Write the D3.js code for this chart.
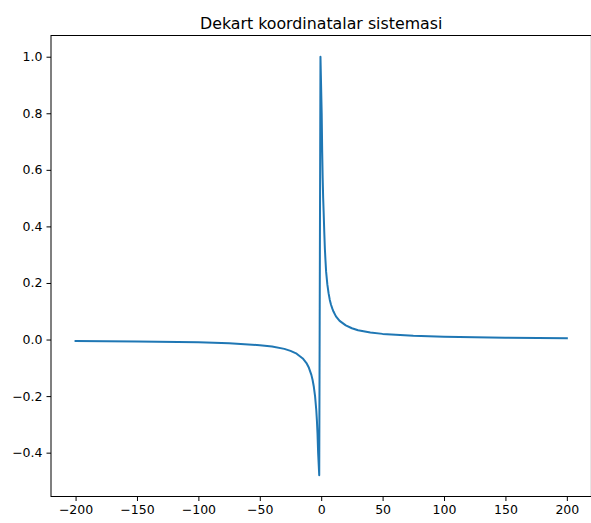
<!DOCTYPE html>
<html>
<head>
<meta charset="utf-8">
<script src="https://cdn.jsdelivr.net/npm/d3@7"></script>
<style>
  body { margin: 0; background: #fff; }
  .tick text { font-family: "DejaVu Sans", sans-serif; font-size: 12.5px; fill: #000; }
  .tick line { stroke: #000; stroke-width: 1; }
</style>
</head>
<body>
<div class="chart"></div>
<script>
var svgWidth = 591;
var svgHeight = 523;

// points (left branch, then right branch)
var xValues = [-200, -150, -100, -75, -50, -40, -30, -25, -20, -15, -12, -10, -8, -7, -6, -5, -4, -3.5, -3, -2.5, -1.6,
  -0.6, 0.4, 0.8, 1.2, 1.6, 2, 2.5, 3, 3.5, 4, 5, 6, 7, 8, 9, 10, 12, 15, 20, 25, 30, 40, 50, 75, 100, 150, 200];
var yValues = [-0.005, -0.0067, -0.01, -0.0133, -0.02, -0.025, -0.033, -0.04, -0.05, -0.067, -0.083, -0.1, -0.125, -0.143, -0.167, -0.2, -0.25, -0.286, -0.333, -0.4, -0.48,
  1.0, 0.8, 0.667, 0.571, 0.5, 0.45, 0.38, 0.32, 0.278, 0.24, 0.195, 0.164, 0.14, 0.123, 0.11, 0.099, 0.082, 0.066, 0.05, 0.04, 0.033, 0.025, 0.02, 0.0133, 0.01, 0.0067, 0.005];

var xTicks = [-200, -150, -100, -50, 0, 50, 100, 150, 200];
var yTicks = [-0.4, -0.2, 0.0, 0.2, 0.4, 0.6, 0.8, 1.0];
var title = "Dekart koordinatalar sistemasi";

var data = xValues.map((x, i) => ({x: x, y: yValues[i]}));

var plot = {left: 51, right: 591.4, top: 35.5, bottom: 496.5};

var svg = d3.select(".chart")
  .append("svg")
  .attr("width", svgWidth)
  .attr("height", svgHeight);

var xScale = d3.scaleLinear()
  .domain([-220, 220])
  .range([plot.left, plot.right]);

var yScale = d3.scaleLinear()
  .domain([-0.555, 1.075])
  .range([plot.bottom, plot.top]);

// axes
var bottomAxis = d3.axisBottom(xScale).tickValues(xTicks).tickSize(4.5).tickPadding(4).tickFormat(d3.format("d"));
var leftAxis = d3.axisLeft(yScale).tickValues(yTicks).tickSize(4.5).tickPadding(4).tickFormat(d3.format(".1f"));

svg.append("g")
  .attr("transform", `translate(0, ${plot.bottom})`)
  .call(bottomAxis)
  .call(g => g.select(".domain").remove());

svg.append("g")
  .attr("transform", `translate(${plot.left}, 0)`)
  .call(leftAxis)
  .call(g => g.select(".domain").remove());

// the curve
var line = d3.line()
  .x(d => xScale(d.x))
  .y(d => yScale(d.y));

svg.append("path")
  .datum(data)
  .attr("fill", "none")
  .attr("stroke", "#1f77b4")
  .attr("stroke-width", 2)
  .attr("stroke-linejoin", "round")
  .attr("stroke-linecap", "square")
  .attr("d", line);

// frame
svg.append("rect")
  .attr("x", plot.left)
  .attr("y", plot.top)
  .attr("width", plot.right - plot.left)
  .attr("height", plot.bottom - plot.top)
  .attr("fill", "none")
  .attr("stroke", "#000")
  .attr("stroke-width", 1);

svg.append("text")
  .attr("x", (plot.left + plot.right) / 2)
  .attr("y", plot.top - 7)
  .attr("text-anchor", "middle")
  .style("font-family", "'DejaVu Sans', sans-serif")
  .style("font-size", "15.8px")
  .text(title);
</script>
</body>
</html>
